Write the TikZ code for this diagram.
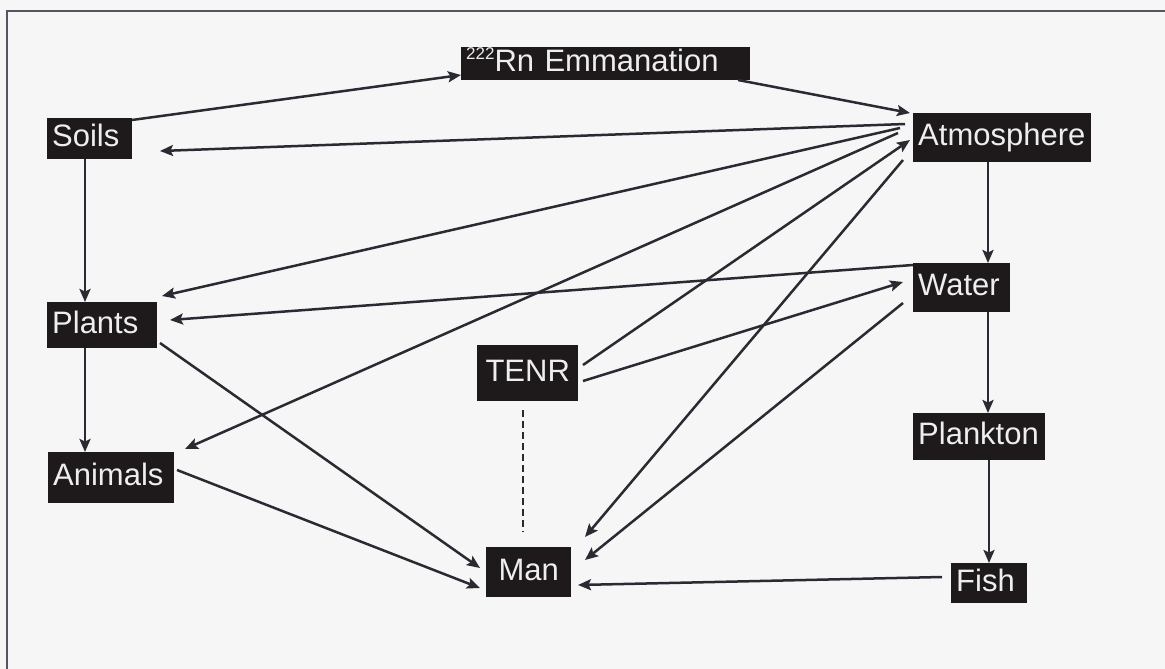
\documentclass[tikz,border=0pt]{standalone}
\usepackage{fontspec}
\setmainfont{Liberation Sans}
\usetikzlibrary{arrows.meta,calc}
\definecolor{boxc}{HTML}{1E1A1C}
\definecolor{linec}{HTML}{2A2A32}
\definecolor{bgc}{HTML}{F6F6F6}
\definecolor{txtc}{HTML}{EEEEEE}
\definecolor{framec}{HTML}{555560}
\begin{document}
\begin{tikzpicture}[x=1pt,y=-1pt,
  bx/.style={fill=boxc, text=txtc, font=\fontsize{31}{31}\selectfont,
    inner xsep=5pt, inner ysep=0pt, anchor=north west, align=left,
    text height=23pt, text depth=6.5pt},
  arr/.style={draw=linec, line width=2.5pt, -{Stealth[length=13pt,width=11pt,inset=2.5pt]}},
  dl/.style={draw=linec, line width=1.8pt, dash pattern=on 7pt off 4pt}]
\fill[bgc] (0,0) rectangle (1165,669);
\useasboundingbox (0,0) rectangle (1165,669);
\draw[framec, line width=2pt] (7,669) -- (7,11) -- (1165,11);

\node[bx, text width=279pt, minimum height=33pt] (rn) at (461,47)
  {{\fontsize{17}{17}\selectfont\raisebox{12pt}{222}}Rn Emmanation};
\node[bx, text width=75pt, minimum height=41pt] (soils) at (47,118) {Soils};
\node[bx, text width=100pt, minimum height=46pt] (plants) at (47,302) {Plants};
\node[bx, text width=116pt, minimum height=51pt] (animals) at (48,452) {Animals};
\node[bx, text width=91pt, minimum height=56pt, align=center] (tenr) at (477,345) {TENR};
\node[bx, text width=75pt, minimum height=50pt, align=center] (man) at (486,547) {Man};
\node[bx, text width=168pt, minimum height=49pt] (atm) at (913,113) {Atmosphere};
\node[bx, text width=87pt, minimum height=49pt] (water) at (913,263) {Water};
\node[bx, text width=122pt, minimum height=47pt] (plankton) at (913,413) {Plankton};
\node[bx, text width=66pt, minimum height=40pt] (fish) at (951,563) {Fish};

% Soils -> Rn
\draw[arr] ($(soils.north west)+(85,2)$) -- ($(rn.north west)+(0,28)$);
% Rn -> Atmosphere
\draw[arr] ($(rn.north west)+(277,33)$) -- ($(atm.north west)+(-3,0)$);
% Atmosphere -> Soils
\draw[arr] ($(atm.north west)+(-8,11)$) -- ($(soils.north west)+(113,33)$);
% Atmosphere -> Plants
\draw[arr] ($(atm.north west)+(-13,15)$) -- ($(plants.north west)+(115,-6)$);
% Atmosphere -> Animals
\draw[arr] ($(atm.north west)+(-15,20)$) -- ($(animals.north west)+(137,-3)$);
% TENR -> Atmosphere
\draw[arr] ($(tenr.north west)+(106,20)$) -- ($(atm.north west)+(-3,27)$);
% Atmosphere -> Man
\draw[arr] ($(atm.north west)+(-10,47)$) -- ($(man.north west)+(99,-10)$);
% Atmosphere -> Water
\draw[arr] ($(atm.north west)+(75,49)$) -- ($(water.north west)+(75,0)$);
% Water -> Plants
\draw[arr] ($(water.north west)+(0,2)$) -- ($(plants.north west)+(123,18)$);
% TENR -> Water
\draw[arr] ($(tenr.north west)+(106,36)$) -- ($(water.north west)+(-10,19)$);
% Water -> Man
\draw[arr] ($(water.north west)+(-10,40)$) -- ($(man.north west)+(99,13)$);
% Water -> Plankton
\draw[arr] ($(water.north west)+(75,49)$) -- ($(plankton.north west)+(75,0)$);
% Plankton -> Fish
\draw[arr] ($(plankton.north west)+(76,47)$) -- ($(fish.north west)+(38,0)$);
% Fish -> Man
\draw[arr] ($(fish.north west)+(-9,14)$) -- ($(man.north west)+(92,38)$);
% Soils -> Plants
\draw[arr] ($(soils.north west)+(38,41)$) -- ($(plants.north west)+(38,0)$);
% Plants -> Animals
\draw[arr] ($(plants.north west)+(38,46)$) -- ($(animals.north west)+(37,0)$);
% Plants -> Man
\draw[arr] ($(plants.north west)+(113,41)$) -- ($(man.north west)+(-6,21)$);
% Animals -> Man
\draw[arr] ($(animals.north west)+(129,18)$) -- ($(man.north west)+(-6,41)$);
% TENR -- Man (dashed)
\draw[dl] ($(tenr.north west)+(46,65)$) -- ($(man.north west)+(37,-15)$);
\end{tikzpicture}
\end{document}
